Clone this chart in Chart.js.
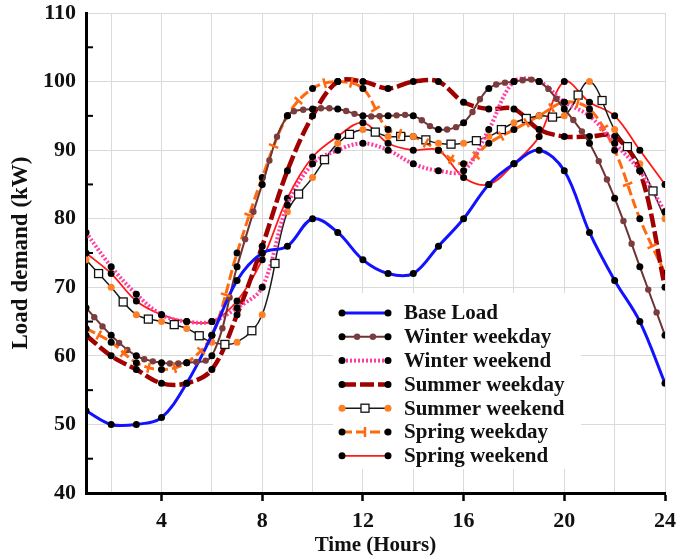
<!DOCTYPE html>
<html>
<head>
<meta charset="utf-8">
<script src="https://cdn.jsdelivr.net/npm/chart.js@4.4.1/dist/chart.umd.min.js"></script>
<style>
  html, body { margin: 0; padding: 0; background: #fff; }
  #wrap { width: 677px; height: 558px; }
</style>
</head>
<body>
<div id="wrap"><canvas id="load-chart" width="677" height="558"></canvas></div>
<script>
// hourly load profiles (kW)
const hours = [1, 2, 3, 4, 5, 6, 7, 8, 9, 10, 11, 12, 13, 14, 15, 16, 17, 18, 19, 20, 21, 22, 23, 24];
const baseLoad      = [52, 50, 50, 51, 56, 63, 71, 75, 76, 80, 78, 74, 72, 72, 76, 80, 85, 88, 90, 87, 78, 71, 65, 56];
const winterWeekday = [67, 63, 60, 59, 59, 60, 73, 85, 95, 96, 96, 95, 95, 95, 93, 94, 99, 100, 100, 96, 91, 83, 73, 63];
const winterWeekend = [78, 73, 69, 66, 65, 65, 67, 70, 82, 88, 90, 91, 90, 88, 87, 87, 93, 100, 100, 97, 95, 91, 87, 81];
const summerWeekday = [63, 60, 58, 56, 56, 58, 66, 76, 87, 95, 100, 100, 99, 100, 100, 97, 96, 96, 93, 92, 92, 92, 87, 70];
const summerWeekend = [74, 70, 66, 65, 64, 62, 62, 66, 81, 86, 91, 93, 92, 92, 91, 91, 92, 94, 95, 95, 100, 93, 88, 80];
const springWeekday = [64, 62, 59, 58, 59, 63, 75, 86, 95, 99, 100, 99, 93, 92, 90, 88, 91, 93, 95, 97, 96, 90, 80, 72];
const springWeekend = [75, 72, 68, 66, 65, 65, 68, 74, 83, 89, 92, 94, 91, 90, 90, 86, 85, 88, 92, 100, 97, 95, 90, 85];
const xTickLabels = [4, 8, 12, 16, 20, 24];
const yTickLabels = [40, 50, 60, 70, 80, 90, 100, 110];

const serif = "'Liberation Serif', 'Times New Roman', serif";

function pts(arr) {
    return hours.map((h, i) => ({ x: h, y: arr[i] }));
}

function series(label, arr, color, width, dash, extra) {
    return Object.assign({
        label: label,
        data: pts(arr),
        borderColor: color,
        borderWidth: width,
        borderDash: dash,
        pointRadius: 3.5,
        pointBorderWidth: 0,
        pointBackgroundColor: '#000',
        tension: 0.35,
        fill: false
    }, extra || {});
}

// point on the drawn bezier between two line points
function onCurve(a, b, t) {
    const u = 1 - t;
    const c1x = a.cp2x, c1y = a.cp2y, c2x = b.cp1x, c2y = b.cp1y;
    return {
        x: u * u * u * a.x + 3 * u * u * t * c1x + 3 * u * t * t * c2x + t * t * t * b.x,
        y: u * u * u * a.y + 3 * u * u * t * c1y + 3 * u * t * t * c2y + t * t * t * b.y
    };
}

// drawing helpers for the in-between glyphs of some series
const glyphs = {
    dots(ctx, p, color) {
        ctx.fillStyle = color;
        ctx.beginPath();
        ctx.arc(p.x, p.y, 3.2, 0, Math.PI * 2);
        ctx.fill();
    },
    square(ctx, p) {
        ctx.fillStyle = '#fff';
        ctx.strokeStyle = '#111';
        ctx.lineWidth = 1.3;
        ctx.fillRect(p.x - 4, p.y - 4, 8, 8);
        ctx.strokeRect(p.x - 4, p.y - 4, 8, 8);
    },
    bar(ctx, p, color, ang) {
        ctx.strokeStyle = color;
        ctx.lineWidth = 2.5;
        const dx = -Math.sin(ang) * 5, dy = Math.cos(ang) * 5;
        ctx.beginPath();
        ctx.moveTo(p.x - dx, p.y - dy);
        ctx.lineTo(p.x + dx, p.y + dy);
        ctx.stroke();
    }
};

const lineGlyphs = {
    id: 'lineGlyphs',
    afterDatasetsDraw(chart) {
        const ctx = chart.ctx;
        ctx.save();
        chart.data.datasets.forEach((ds, i) => {
            if (!ds.glyph) return;
            const els = chart.getDatasetMeta(i).data;
            for (let k = 0; k < els.length - 1; k++) {
                const a = els[k], b = els[k + 1];
                ds.glyphAt.forEach(t => {
                    const p = onCurve(a, b, t);
                    const ang = Math.atan2(b.y - a.y, b.x - a.x);
                    glyphs[ds.glyph](ctx, p, ds.glyphColor, ang);
                });
            }
        });
        ctx.restore();
    }
};

// y axis minor ticks drawn on the inner side of the axis
const innerTicks = {
    id: 'innerTicks',
    afterDraw(chart) {
        const ctx = chart.ctx, y = chart.scales.y, left = chart.chartArea.left;
        ctx.save();
        ctx.strokeStyle = '#000';
        ctx.lineWidth = 2;
        for (let v = 45; v < 110; v += 10) {
            const py = y.getPixelForValue(v);
            ctx.beginPath();
            ctx.moveTo(left, py);
            ctx.lineTo(left + 7, py);
            ctx.stroke();
        }
        ctx.restore();
    }
};

// legend box sitting inside the plot, lower right
const insideLegend = {
    id: 'insideLegend',
    afterDraw(chart) {
        const ctx = chart.ctx;
        const lx = 333, ly = 293, rowH = 23.8;
        ctx.save();
        ctx.fillStyle = '#fff';
        ctx.fillRect(lx, ly, 248, 176);
        chart.data.datasets.forEach((ds, i) => {
            const cy = ly + 20 + i * rowH;
            ctx.setLineDash(ds.borderDash || []);
            ctx.strokeStyle = ds.borderColor;
            ctx.lineWidth = ds.borderWidth;
            ctx.beginPath();
            ctx.moveTo(lx + 9, cy);
            ctx.lineTo(lx + 55, cy);
            ctx.stroke();
            ctx.setLineDash([]);
            if (ds.glyph) {
                const a = { x: lx + 9, y: cy, cp2x: lx + 24, cp2y: cy };
                const b = { x: lx + 55, y: cy, cp1x: lx + 40, cp1y: cy };
                ds.glyphAt.forEach(t => glyphs[ds.glyph](ctx, onCurve(a, b, t), ds.glyphColor, 0));
            }
            ctx.fillStyle = ds.pointBackgroundColor;
            [lx + 9, lx + 55].forEach(px => {
                ctx.beginPath();
                ctx.arc(px, cy, 3.5, 0, Math.PI * 2);
                ctx.fill();
            });
            ctx.fillStyle = '#111';
            ctx.font = 'bold 21px ' + serif;
            ctx.textBaseline = 'middle';
            ctx.fillText(ds.label, lx + 71, cy + 1);
        });
        ctx.restore();
    }
};

new Chart(document.getElementById('load-chart'), {
    type: 'line',
    data: {
        datasets: [
            series('Base Load', baseLoad, '#1212ff', 3, []),
            series('Winter weekday', winterWeekday, '#6e3434', 2, [],
                { glyph: 'dots', glyphAt: [0.33, 0.67], glyphColor: '#7a3c3c' }),
            series('Winter weekend', winterWeekend, '#ff3fa0', 4, [2, 2]),
            series('Summer weekday', summerWeekday, '#a00000', 4.5, [14, 4]),
            series('Summer weekend', summerWeekend, '#1a1a1a', 1.5, [],
                { pointBackgroundColor: '#ff7f27', glyph: 'square', glyphAt: [0.5] }),
            series('Spring weekday', springWeekday, '#ff6a10', 3, [10, 4],
                { glyph: 'bar', glyphAt: [0.5], glyphColor: '#ff6a10' }),
            series('Spring weekend', springWeekend, '#ff1a1a', 1.8, [])
        ]
    },
    options: {
        responsive: false,
        animation: false,
        layout: { padding: { top: 13, right: 12, left: 0, bottom: 0 } },
        plugins: {
            legend: { display: false },
            tooltip: { enabled: false }
        },
        scales: {
            x: {
                type: 'linear',
                min: 1,
                max: 24,
                afterFit: s => {
                    s.height = 65;
                    s.paddingLeft = 0;
                    s.paddingRight = 0;
                },
                ticks: {
                    stepSize: 1,
                    autoSkip: false,
                    maxRotation: 0,
                    padding: 7,
                    color: '#111',
                    font: { family: serif, size: 22, weight: 'bold' },
                    callback: v => xTickLabels.includes(v) ? v : ''
                },
                grid: {
                    color: c => (c.tick && c.tick.value % 2 === 0) ? '#dadada' : 'rgba(0,0,0,0)',
                    tickColor: c => (c.tick && xTickLabels.includes(c.tick.value)) ? '#000' : 'rgba(0,0,0,0)',
                    tickLength: 8,
                    tickWidth: 2.5
                },
                border: { color: '#000', width: 3 },
                title: {
                    display: true,
                    text: 'Time (Hours)',
                    color: '#111',
                    font: { family: serif, size: 21, weight: 'bold' },
                    padding: { top: 0, bottom: 0 }
                }
            },
            y: {
                min: 40,
                max: 110,
                afterFit: s => {
                    s.width = 86;
                    s.paddingTop = 0;
                    s.paddingBottom = 0;
                },
                ticks: {
                    stepSize: 5,
                    padding: 10,
                    color: '#111',
                    font: { family: serif, size: 22, weight: 'bold' },
                    callback: v => yTickLabels.includes(v) ? v : ''
                },
                grid: {
                    color: c => (c.tick && c.tick.value % 10 === 0) ? '#dadada' : 'rgba(0,0,0,0)',
                    drawTicks: false
                },
                border: { color: '#000', width: 3 },
                title: {
                    display: true,
                    text: 'Load demand (kW)',
                    color: '#111',
                    font: { family: serif, size: 23, weight: 'bold' },
                    padding: { top: 7, bottom: 0 }
                }
            }
        }
    },
    plugins: [lineGlyphs, innerTicks, insideLegend]
});
</script>
</body>
</html>
